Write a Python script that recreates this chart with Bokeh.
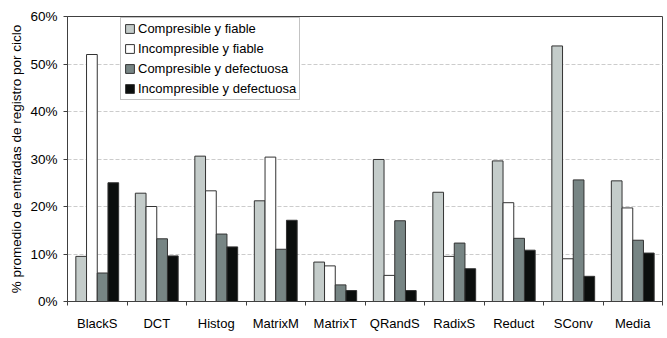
import numpy as np
from bokeh.plotting import figure
from bokeh.models import (Range1d, FixedTicker, PrintfTickFormatter, ColumnDataSource, Legend, LegendItem)
from bokeh.transform import dodge
from bokeh.embed import file_html
from bokeh.resources import INLINE

categories = ["BlackS", "DCT", "Histog", "MatrixM", "MatrixT", "QRandS", "RadixS", "Reduct", "SConv", "Media"]
comp_fiable = [9.5, 22.8, 30.6, 21.2, 8.3, 29.9, 23.0, 29.6, 53.8, 25.4]
incomp_fiable = [52.0, 20.0, 23.3, 30.4, 7.5, 5.5, 9.5, 20.8, 9.0, 19.7]
comp_defect = [6.0, 13.2, 14.2, 11.0, 3.5, 17.0, 12.3, 13.3, 25.6, 12.9]
incomp_defect = [25.0, 9.6, 11.5, 17.1, 2.3, 2.3, 6.9, 10.8, 5.3, 10.2]
series_names = ["Compresible y fiable", "Incompresible y fiable",
                "Compresible y defectuosa", "Incompresible y defectuosa"]
y_ticks = [0, 10, 20, 30, 40, 50, 60]

colors = ["#c4ccca", "#ffffff", "#778584", "#0b0e0d"]
FONT = "Liberation Sans"

n = len(categories)
centers = np.arange(n) + 0.5
src = ColumnDataSource(dict(x=centers, s0=comp_fiable, s1=incomp_fiable,
                            s2=comp_defect, s3=incomp_defect))

p = figure(width=667, height=338, x_range=Range1d(0, n), y_range=Range1d(0, 60),
           output_backend="svg", toolbar_location=None,
           min_border_left=67, min_border_right=5, min_border_top=16, min_border_bottom=37)
p.background_fill_color = "white"
p.border_fill_color = "white"
p.outline_line_color = "#404040"
p.outline_line_width = 1

xax = p.xaxis[0]
xax.ticker = FixedTicker(ticks=list(centers), minor_ticks=list(range(n + 1)))
xax.major_label_overrides = {float(c): name for c, name in zip(centers, categories)}
xax.major_tick_line_color = None
xax.minor_tick_line_color = "#404040"
xax.minor_tick_out = 4
xax.minor_tick_in = 0
xax.axis_line_color = "#404040"
xax.major_label_standoff = 8
xax.major_label_text_font = FONT
xax.major_label_text_font_size = "13px"
xax.major_label_text_color = "black"

yax = p.yaxis[0]
yax.ticker = FixedTicker(ticks=y_ticks)
yax.formatter = PrintfTickFormatter(format="%d%%")
yax.major_label_text_font = FONT
yax.major_label_text_font_size = "13.5px"
yax.major_label_text_color = "black"
yax.major_label_standoff = 6
yax.axis_line_color = "#404040"
yax.major_tick_line_color = "#404040"
yax.major_tick_out = 4
yax.major_tick_in = 0
yax.minor_tick_line_color = None
yax.axis_label = "% promedio de entradas de registro por ciclo"
yax.axis_label_text_font = FONT
yax.axis_label_text_font_size = "13.5px"
yax.axis_label_text_font_style = "normal"
yax.axis_label_text_color = "black"
yax.axis_label_standoff = 3

p.xgrid.grid_line_color = None
p.ygrid.ticker = FixedTicker(ticks=y_ticks)
p.ygrid.grid_line_color = "#cccccc"
p.ygrid.grid_line_dash = "4 2"

offsets = [-0.27, -0.09, 0.09, 0.27]
items = []
for i in range(4):
    r = p.vbar(x=dodge("x", offsets[i]), top="s%d" % i, width=0.18,
               source=src, fill_color=colors[i], line_color="#333333", line_width=1)
    items.append(LegendItem(label=series_names[i], renderers=[r]))

legend = Legend(items=items, location=(53, 201))
legend.label_text_font = FONT
legend.label_text_font_size = "13px"
legend.label_text_color = "black"
legend.glyph_width = 11
legend.glyph_height = 11
legend.label_height = 11
legend.spacing = 5
legend.padding = 3
legend.margin = 0
legend.label_standoff = 3
legend.border_line_color = "#888888"
legend.border_line_width = 1
legend.background_fill_alpha = 1
p.add_layout(legend, "center")

open("out.html", "w").write(file_html(p, INLINE))
